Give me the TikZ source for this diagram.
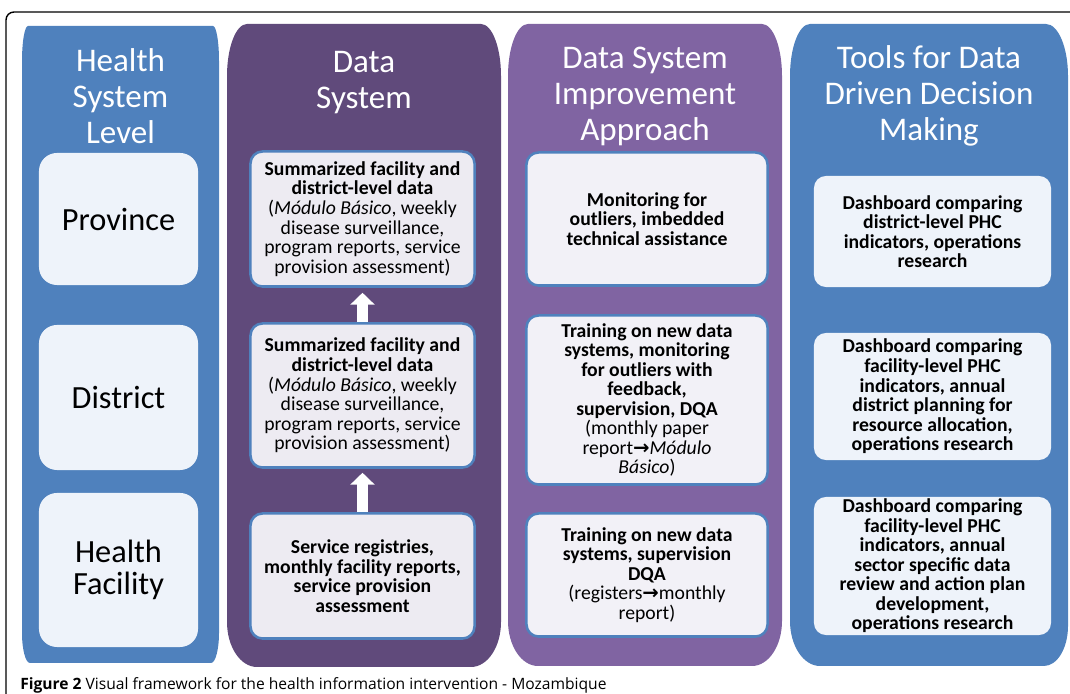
\documentclass[tikz,border=0pt]{standalone}
\usepackage{fontspec}
\setmainfont{Carlito}
\newfontfamily\captionfont{Open Sans}
\newfontfamily\arrowfont{DejaVu Sans}
\usetikzlibrary{arrows.meta}
\definecolor{levelBlue}{RGB}{79,129,189}
\definecolor{dataPurple}{RGB}{96,74,123}
\definecolor{approachPurple}{RGB}{128,100,162}
\definecolor{paleBlue}{RGB}{238,243,250}
\definecolor{paleLilac}{RGB}{237,235,242}
\definecolor{paleGrey}{RGB}{242,241,247}
\newcommand{\toArrow}{{\arrowfont\bfseries →}}

\begin{document}
\begin{tikzpicture}[x=0.025cm, y=0.025cm,
  colTitle/.style={white, align=center, font=\fontsize{23.5}{25.6}\selectfont},
  levelBox/.style={fill=paleBlue, rounded corners=0.45cm, inner sep=0pt, align=center, font=\fontsize{23}{23}\selectfont},
  dataBox/.style={fill=paleLilac, draw=levelBlue, line width=1.8pt, rounded corners=0.3cm, inner sep=0pt, align=center, font=\fontsize{14}{13.9}\selectfont},
  approachBox/.style={dataBox, fill=paleGrey},
  toolBox/.style={fill=paleBlue, rounded corners=0.3cm, inner sep=0pt, align=center, font=\fontsize{14}{13.9}\selectfont},
  upArrow/.style={white, line width=8.5pt, -{Triangle[width=17pt, length=8.5pt]}}]

\useasboundingbox (0,0) rectangle (1070,694);
\clip (0,0) rectangle (1070,694);

% Figure frame (runs off the page at right and bottom)
\draw[line width=1pt, rounded corners=0.2cm] (6,-20) rectangle (1100,682);

% Column 1: health system level
\fill[levelBlue] (28,668) -- (213,668) arc[start angle=90, end angle=0, x radius=6, y radius=35]
  -- (219,61) arc[start angle=0, end angle=-90, x radius=8, y radius=30]
  -- (30,31) arc[start angle=270, end angle=180, x radius=8, y radius=30]
  -- (22,633) arc[start angle=180, end angle=90, x radius=6, y radius=35] -- cycle;

% Column 2: data system
\fill[dataPurple] (247,670) -- (481,670) arc[start angle=90, end angle=0, x radius=20, y radius=52]
  -- (501,72) arc[start angle=0, end angle=-90, x radius=30, y radius=45]
  -- (257,27) arc[start angle=270, end angle=180, x radius=30, y radius=45]
  -- (227,618) arc[start angle=180, end angle=90, x radius=20, y radius=52] -- cycle;

% Column 3: data system improvement approach
\fill[approachPurple] (528,670) -- (762,670) arc[start angle=90, end angle=0, x radius=20, y radius=52]
  -- (782,73) arc[start angle=0, end angle=-90, x radius=30, y radius=45]
  -- (538,28) arc[start angle=270, end angle=180, x radius=30, y radius=45]
  -- (508,618) arc[start angle=180, end angle=90, x radius=20, y radius=52] -- cycle;

% Column 4: tools for decision making
\fill[levelBlue] (810,670) -- (1046,670) arc[start angle=90, end angle=0, x radius=22, y radius=52]
  -- (1068,68) arc[start angle=0, end angle=-90, x radius=24, y radius=40]
  -- (820,28) arc[start angle=270, end angle=180, x radius=30, y radius=45]
  -- (790,618) arc[start angle=180, end angle=90, x radius=20, y radius=52] -- cycle;

% Column titles
\node[colTitle] (levelTitle) at (120.5,598) {Health\\System\\Level};
\node[colTitle] (dataTitle) at (364,611) {Data\\System};
\node[colTitle] (approachTitle) at (645,598) {Data System\\Improvement\\Approach};
\node[colTitle] (toolTitle) at (929,598) {Tools for Data\\Driven Decision\\Making};

% Levels
\node[levelBox, minimum width=3.975cm, minimum height=3.3cm] (province) at (118.5,475) {Province};
\node[levelBox, minimum width=3.975cm, minimum height=3.625cm] (district) at (118.5,296.5) {District};
\node[levelBox, minimum width=3.975cm, minimum height=3.85cm] (facility) at (118.5,124) {Health\\Facility};

% Data system boxes
\node[dataBox, minimum width=5.6cm, minimum height=3.375cm] (dataProv) at (362.5,475) {\textbf{Summarized facility and}\\\textbf{district-level data}\\(\textit{Módulo Básico}, weekly\\disease surveillance,\\program reports, service\\provision assessment)};
\node[dataBox, minimum width=5.6cm, minimum height=3.6cm] (dataDist) at (362.5,298.5) {\textbf{Summarized facility and}\\\textbf{district-level data}\\(\textit{Módulo Básico}, weekly\\disease surveillance,\\program reports, service\\provision assessment)};
\node[dataBox, minimum width=5.6cm, minimum height=3.125cm] (dataFac) at (362.5,118) {\textbf{Service registries,}\\\textbf{monthly facility reports,}\\\textbf{service provision}\\\textbf{assessment}};

% Upward flow arrows
\draw[upArrow, shorten >=0.125cm] (dataDist.north) -- (dataProv.south);
\draw[upArrow, shorten >=0.1cm] (dataFac.north) -- (dataDist.south);

% Improvement approach boxes
\node[approachBox, minimum width=6.025cm, minimum height=3.325cm] (approachProv) at (647,475) {\textbf{Monitoring for}\\\textbf{outliers, imbedded}\\\textbf{technical assistance}};
\node[approachBox, minimum width=6.025cm, minimum height=4.225cm] (approachDist) at (647,294) {\textbf{Training on new data}\\\textbf{systems, monitoring}\\\textbf{for outliers with}\\\textbf{feedback,}\\\textbf{supervision, DQA}\\(monthly paper\\report\toArrow\textit{Módulo}\\\textit{Básico})};
\node[approachBox, minimum width=6.025cm, minimum height=3.075cm] (approachFac) at (647,119) {\textbf{Training on new data}\\\textbf{systems, supervision}\\\textbf{DQA}\\(registers\toArrow monthly\\report)};

% Decision making tools
\node[toolBox, minimum width=5.925cm, minimum height=2.775cm] (toolProv) at (932.5,462.5) {\textbf{Dashboard comparing}\\\textbf{district-level PHC}\\\textbf{indicators, operations}\\\textbf{research}};
\node[toolBox, minimum width=5.925cm, minimum height=3.175cm] (toolDist) at (932.5,297.5) {\textbf{Dashboard comparing}\\\textbf{facility-level PHC}\\\textbf{indicators, annual}\\\textbf{district planning for}\\\textbf{resource allocation,}\\\textbf{operations research}};
\node[toolBox, minimum width=5.925cm, minimum height=3.45cm] (toolFac) at (932.5,128) {\textbf{Dashboard comparing}\\\textbf{facility-level PHC}\\\textbf{indicators, annual}\\\textbf{sector specific data}\\\textbf{review and action plan}\\\textbf{development,}\\\textbf{operations research}};

% Caption
\node[anchor=base west, inner sep=0pt, font=\captionfont\fontsize{11.1}{13}\selectfont] (caption) at (20,4) {\textbf{Figure 2} Visual framework for the health information intervention - Mozambique};

\end{tikzpicture}
\end{document}
